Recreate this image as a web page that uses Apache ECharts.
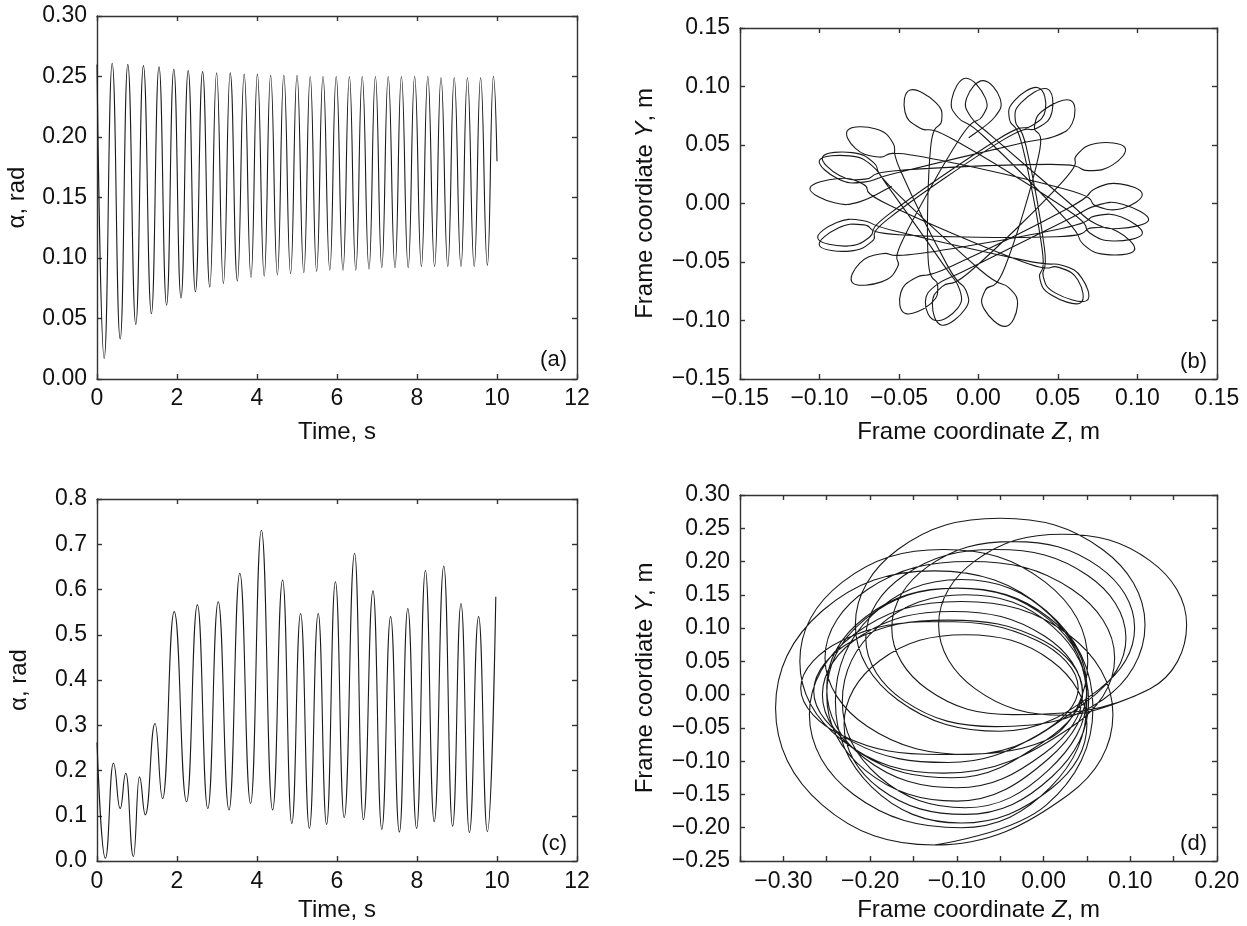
<!DOCTYPE html>
<html>
<head>
<meta charset="utf-8">
<script src="https://cdn.jsdelivr.net/npm/echarts@6/dist/echarts.min.js"></script>
<style>
  html, body { margin: 0; padding: 0; background: #ffffff; }
  #chart { width: 1247px; height: 926px; }
</style>
</head>
<body>
<div id="chart"></div>
<script>
// ---------- (a) swing angle, small excitation: peak / trough of every swing ----------
const swingPeakTimeA = [0.00, 0.38, 0.77, 1.16, 1.55, 1.92, 2.28, 2.64, 2.99, 3.33, 3.68, 4.01, 4.34, 4.67, 5.00,
  5.33, 5.65, 5.98, 6.31, 6.63, 6.96, 7.28, 7.61, 7.94, 8.27, 8.60, 8.93, 9.26, 9.59, 9.91];
const swingPeakA = [0.260, 0.261, 0.260, 0.259, 0.258, 0.256, 0.255, 0.254, 0.253, 0.253, 0.252, 0.252, 0.251, 0.251, 0.251,
  0.250, 0.250, 0.250, 0.250, 0.250, 0.250, 0.250, 0.250, 0.250, 0.250, 0.249, 0.249, 0.249, 0.249, 0.250];
const swingTroughTimeA = [0.18, 0.58, 0.97, 1.36, 1.74, 2.10, 2.46, 2.82, 3.16, 3.51, 3.85, 4.18, 4.51, 4.84, 5.17,
  5.49, 5.82, 6.15, 6.47, 6.80, 7.12, 7.45, 7.78, 8.11, 8.44, 8.77, 9.10, 9.43, 9.76];
const swingTroughA = [0.017, 0.033, 0.045, 0.054, 0.061, 0.067, 0.072, 0.076, 0.079, 0.081, 0.084, 0.085, 0.086, 0.087, 0.088,
  0.089, 0.090, 0.090, 0.090, 0.091, 0.092, 0.092, 0.092, 0.093, 0.093, 0.093, 0.093, 0.093, 0.094];
const lastSampleA = [10.0, 0.180];

// ---------- (c) swing angle, large excitation: successive extrema ----------
const extremaTimeC = [0.00, 0.21, 0.41, 0.58, 0.72, 0.91, 1.06, 1.21, 1.45, 1.64, 1.93, 2.24, 2.51, 2.77, 3.03,
  3.30, 3.57, 3.84, 4.11, 4.39, 4.64, 4.87, 5.09, 5.31, 5.53, 5.74, 5.96, 6.18, 6.44, 6.66,
  6.90, 7.12, 7.34, 7.56, 7.77, 7.99, 8.21, 8.43, 8.67, 8.89, 9.10, 9.31, 9.54, 9.76, 9.97];
const extremaC = [0.262, 0.006, 0.216, 0.116, 0.194, 0.010, 0.186, 0.102, 0.304, 0.138, 0.551, 0.131, 0.566, 0.116, 0.573,
  0.113, 0.636, 0.127, 0.731, 0.113, 0.621, 0.083, 0.547, 0.072, 0.547, 0.081, 0.617, 0.096, 0.680, 0.091,
  0.597, 0.070, 0.540, 0.064, 0.558, 0.072, 0.642, 0.087, 0.652, 0.077, 0.569, 0.063, 0.540, 0.065, 0.584];

// ---------- (b) frame trajectory [Z, Y] in m, small excitation; one row per outer loop ----------
const orbitB = [
  [-0.0546, 0.0148], [-0.0744, 0.0016], [-0.0906, 0.0006], [-0.106, 0.013], [-0.0881, 0.0214], [-0.0725, 0.0165], [-0.0566, -0.0011],
  [0.0273, -0.0495], [0.0505, -0.0546], [0.0626, -0.0656], [0.064, -0.085], [0.0458, -0.0782], [0.0385, -0.0636], [0.0401, -0.0399],
  [0.0275, 0.0494], [0.0195, 0.0718], [0.0225, 0.0878], [0.0375, 0.099], [0.0421, 0.0803], [0.0335, 0.0664], [0.0126, 0.0552],
  [-0.0559, -0.0087], [-0.0686, -0.0288], [-0.0830, -0.0364], [-0.101, -0.030], [-0.0891, -0.0163], [-0.0730, -0.0145], [-0.0512, -0.0240],
  [0.0290, -0.0486], [0.0524, -0.0528], [0.0648, -0.0633], [0.068, -0.083], [0.0485, -0.0766], [0.0407, -0.0622], [0.0415, -0.0385],
  [0.0301, 0.0479], [0.0232, 0.0706], [0.0270, 0.0865], [0.043, 0.098], [0.0462, 0.0780], [0.0369, 0.0645], [0.0155, 0.0544],
  [-0.0554, -0.0116], [-0.0670, -0.0324], [-0.0810, -0.0407], [-0.100, -0.036], [-0.0882, -0.0209], [-0.0721, -0.0183], [-0.0499, -0.0267],
  [0.0489, -0.0284], [0.0714, -0.0208], [0.0874, -0.0240], [0.098, -0.040], [0.0795, -0.0435], [0.0658, -0.0347], [0.0549, -0.0136],
  [0.0041, 0.0564], [-0.0127, 0.0733], [-0.0168, 0.0891], [-0.008, 0.107], [0.0042, 0.0905], [0.0023, 0.0743], [-0.0119, 0.0553],
  [-0.0475, -0.0307], [-0.0509, -0.0542], [-0.0610, -0.0670], [-0.079, -0.068], [-0.0748, -0.0511], [-0.0608, -0.0429], [-0.0370, -0.0428],
  [0.0524, -0.0213], [0.0736, -0.0106], [0.0899, -0.0116], [0.103, -0.026], [0.0848, -0.0320], [0.0700, -0.0252], [0.0563, -0.0058],
  [-0.0155, 0.0544], [-0.0369, 0.0645], [-0.0462, 0.0780], [-0.043, 0.097], [-0.0270, 0.0865], [-0.0232, 0.0706], [-0.0301, 0.0479],
  [-0.0317, -0.0468], [-0.0257, -0.0698], [-0.0300, -0.0855], [-0.046, -0.094], [-0.0489, -0.0763], [-0.0392, -0.0632], [-0.0174, -0.0538],
  [0.0564, -0.0041], [0.0733, 0.0127], [0.0891, 0.0168], [0.103, 0.008], [0.0905, -0.0042], [0.0743, -0.0023], [0.0553, 0.0119],
  [-0.0392, 0.0408], [-0.0629, 0.0397], [-0.0774, 0.0471], [-0.082, 0.063], [-0.0645, 0.0637], [-0.0537, 0.0515], [-0.0491, 0.0282],
  [-0.0195, -0.0531], [-0.0080, -0.0739], [-0.0084, -0.0902], [-0.023, -0.104], [-0.0290, -0.0859], [-0.0227, -0.0708], [-0.0038, -0.0564],
  [0.0532, 0.0192], [0.0618, 0.0414], [0.0745, 0.0515], [0.092, 0.048], [0.0844, 0.0330], [0.0689, 0.0281], [0.0457, 0.0334],
  [-0.0489, 0.0284], [-0.0714, 0.0208], [-0.0874, 0.0240], [-0.098, 0.040], [-0.0795, 0.0435], [-0.0658, 0.0347], [-0.0549, 0.0136],
  [0.0009, -0.0566], [0.0190, -0.0719], [0.0245, -0.0873], [0.017, -0.105], [0.0037, -0.0905], [0.0042, -0.0743], [0.0167, -0.0541],
  [0.0380, 0.0420], [0.0352, 0.0655], [0.0416, 0.0805], [0.058, 0.088], [0.0590, 0.0687], [0.0476, 0.0572], [0.0247, 0.0509],
  [-0.0499, 0.0267], [-0.0721, 0.0183], [-0.0882, 0.0209], [-0.100, 0.037], [-0.0810, 0.0407], [-0.0670, 0.0324], [-0.0554, 0.0116],
  [-0.0222, -0.0520], [-0.0119, -0.0734], [-0.0132, -0.0897], [-0.027, -0.100], [-0.0334, -0.0842], [-0.0264, -0.0695], [-0.0068, -0.0562],
  [0.0546, -0.0148], [0.0744, -0.0016], [0.0906, -0.0006], [0.107, -0.014], [0.0881, -0.0214], [0.0725, -0.0165], [0.0566, 0.0011],
  [0.0100, 0.0557], [-0.0049, 0.0742], [-0.0074, 0.0903], [0.003, 0.105], [0.0136, 0.0896], [0.0101, 0.0737], [-0.0061, 0.0562]
];

// ---------- (d) frame trajectory [Z, Y] in m, large excitation; one row per revolution ----------
const orbitD = [
  [-0.126, -0.226],
  [0.003, -0.166], [0.057, -0.020], [0.003, 0.126], [-0.126, 0.186], [-0.255, 0.126], [-0.309, -0.020], [-0.255, -0.166], [-0.126, -0.226],
  [0.029, -0.150], [0.080, -0.030], [0.029, 0.090], [-0.095, 0.140], [-0.219, 0.090], [-0.270, -0.030], [-0.219, -0.150], [-0.095, -0.200],
  [0.008, -0.139], [0.050, -0.010], [0.008, 0.119], [-0.095, 0.173], [-0.198, 0.119], [-0.240, -0.010], [-0.198, -0.139], [-0.095, -0.193],
  [0.009, -0.141], [0.050, -0.045], [0.009, 0.051], [-0.090, 0.090], [-0.189, 0.051], [-0.230, -0.045], [-0.189, -0.141], [-0.090, -0.180],
  [0.010, -0.123], [0.052, -0.010], [0.010, 0.103], [-0.090, 0.150], [-0.190, 0.103], [-0.232, -0.010], [-0.190, -0.123], [-0.090, -0.170],
  [0.006, -0.113], [0.050, 0.000], [0.006, 0.113], [-0.100, 0.160], [-0.206, 0.113], [-0.250, 0.000], [-0.206, -0.113], [-0.100, -0.160],
  [0.006, -0.096], [0.050, 0.010], [0.006, 0.116], [-0.100, 0.160], [-0.206, 0.116], [-0.250, 0.010], [-0.206, -0.096], [-0.100, -0.140],
  [0.001, -0.088], [0.045, 0.000], [0.001, 0.088], [-0.105, 0.125], [-0.211, 0.088], [-0.255, 0.000], [-0.211, -0.088], [-0.105, -0.125],
  [0.000, -0.071], [0.045, 0.005], [0.000, 0.081], [-0.110, 0.112], [-0.220, 0.081], [-0.265, 0.005], [-0.220, -0.071], [-0.110, -0.102],
  [-0.007, -0.061], [0.040, 0.010], [-0.007, 0.081], [-0.120, 0.110], [-0.233, 0.081], [-0.280, 0.010], [-0.233, -0.061], [-0.120, -0.090],
  [0.002, -0.069], [0.051, 0.050], [0.002, 0.169], [-0.115, 0.218], [-0.232, 0.169], [-0.281, 0.050], [-0.232, -0.069], [-0.115, -0.118],
  [0.033, -0.048], [0.082, 0.055], [0.033, 0.158], [-0.085, 0.200], [-0.203, 0.158], [-0.252, 0.055], [-0.203, -0.048], [-0.085, -0.090],
  [0.051, -0.009], [0.095, 0.085], [0.051, 0.179], [-0.055, 0.218], [-0.161, 0.179], [-0.205, 0.085], [-0.161, -0.009], [-0.055, -0.048],
  [0.068, -0.008], [0.117, 0.105], [0.068, 0.218], [-0.050, 0.265], [-0.168, 0.218], [-0.217, 0.105], [-0.168, -0.008], [-0.050, -0.055],
  [0.064, 0.008], [0.105, 0.100], [0.064, 0.192], [-0.035, 0.230], [-0.134, 0.192], [-0.175, 0.100], [-0.134, 0.008], [-0.035, -0.030],
  [0.123, 0.009], [0.165, 0.105], [0.123, 0.201], [0.022, 0.241], [-0.079, 0.201], [-0.121, 0.105], [-0.079, 0.009], [0.022, -0.031],
  [0.123, 0.009]
];

// ---------- axis ranges: [min, max, tick step] ----------
const timeAxis = [0, 12, 2];
const angleAxisA = [0, 0.30, 0.05];
const angleAxisC = [0, 0.8, 0.1];
const frameAxisB = [-0.15, 0.15, 0.05];
const frameZAxisD = [-0.35, 0.20, 0.05];
const frameYAxisD = [-0.25, 0.30, 0.05];
const panelTags = ['(a)', '(b)', '(c)', '(d)'];

// ---------- build series data ----------
const dataA = [];
for (let i = 0; i < swingPeakTimeA.length; i++) {
  dataA.push([swingPeakTimeA[i], swingPeakA[i]]);
  if (i < swingTroughTimeA.length) dataA.push([swingTroughTimeA[i], swingTroughA[i]]);
}
dataA.push(lastSampleA);
const dataC = extremaTimeC.map((t, i) => [t, extremaC[i]]);

// ---------- styling helpers ----------
const FONT = '"Liberation Sans", Arial, Helvetica, sans-serif';
const INK = '#111111';
const FRAME = { color: '#333333', width: 1.4 };
const TRACE = '#1a1a1a';

function signed(v, digits) {
  if (Math.abs(v) < 1e-9) return (0).toFixed(digits);
  return (v < 0 ? '\u2212' : '') + Math.abs(v).toFixed(digits);
}
const fmtInt = v => String(Math.round(v));
const fmt1 = v => signed(v, 1);
const fmt2 = v => signed(v, 2);
const fmtTenth = v => (Math.round(v * 100) % 10 === 0 ? signed(v, 2) : '');

const nameStyle = {
  fontFamily: FONT, fontSize: 24, color: INK,
  rich: {
    t: { fontFamily: FONT, fontSize: 24, color: INK },
    i: { fontFamily: FONT, fontSize: 24, color: INK, fontStyle: 'italic' }
  }
};

function xPair(grid, range, fmt, name, gap, margin) {
  const base = {
    gridIndex: grid, type: 'value', min: range[0], max: range[1], interval: range[2],
    axisLine: { show: true, onZero: false, lineStyle: FRAME },
    axisTick: { show: true, inside: true, length: 5, lineStyle: FRAME },
    splitLine: { show: false }
  };
  return [
    Object.assign({}, base, {
      position: 'bottom',
      axisLabel: { formatter: fmt, margin: margin, fontFamily: FONT, fontSize: 23, color: INK },
      name: name, nameLocation: 'middle', nameGap: gap, nameTextStyle: nameStyle
    }),
    Object.assign({}, base, { position: 'top', axisLabel: { show: false } })
  ];
}

function yPair(grid, range, fmt, name, gap) {
  const base = {
    gridIndex: grid, type: 'value', min: range[0], max: range[1], interval: range[2],
    axisLine: { show: true, onZero: false, lineStyle: FRAME },
    axisTick: { show: true, inside: true, length: 5, lineStyle: FRAME },
    splitLine: { show: false }
  };
  return [
    Object.assign({}, base, {
      position: 'left',
      axisLabel: { formatter: fmt, margin: 10, fontFamily: FONT, fontSize: 23, color: INK },
      name: name, nameLocation: 'middle', nameGap: gap, nameTextStyle: nameStyle
    }),
    Object.assign({}, base, { position: 'right', axisLabel: { show: false } })
  ];
}

// Smooth curve (Catmull-Rom style cubic Beziers) through the projected orbit points.
function orbitPath(points, api, k) {
  const px = points.map(p => api.coord(p));
  let d = 'M' + px[0][0].toFixed(2) + ' ' + px[0][1].toFixed(2);
  for (let i = 0; i < px.length - 1; i++) {
    const p0 = px[i - 1] || px[i];
    const p1 = px[i];
    const p2 = px[i + 1];
    const p3 = px[i + 2] || px[i + 1];
    const c1x = p1[0] + (p2[0] - p0[0]) * k, c1y = p1[1] + (p2[1] - p0[1]) * k;
    const c2x = p2[0] - (p3[0] - p1[0]) * k, c2y = p2[1] - (p3[1] - p1[1]) * k;
    d += ' C' + c1x.toFixed(2) + ' ' + c1y.toFixed(2) + ' ' + c2x.toFixed(2) + ' ' + c2y.toFixed(2) +
         ' ' + p2[0].toFixed(2) + ' ' + p2[1].toFixed(2);
  }
  return d;
}

function orbitSeries(axisIndex, points, k) {
  return {
    type: 'custom', coordinateSystem: 'cartesian2d',
    xAxisIndex: axisIndex, yAxisIndex: axisIndex,
    data: points, silent: true, clip: true,
    renderItem: (params, api) => params.dataIndex === 0 ? {
      type: 'path',
      shape: { pathData: orbitPath(points, api, k) },
      style: { fill: 'none', stroke: TRACE, lineWidth: 1.1 }
    } : null
  };
}

const zName = '{t|Frame coordinate }{i|Z}{t|, m}';
const yName = '{t|Frame coordiate }{i|Y}{t|, m}';

const traceStyle = { color: TRACE, width: 1.1 };

const option = {
  animation: false,
  backgroundColor: '#ffffff',
  grid: [
    { left: 97, top: 16, width: 480, height: 363 },
    { left: 740, top: 28, width: 477, height: 351 },
    { left: 97, top: 499, width: 480, height: 362 },
    { left: 740, top: 495, width: 477, height: 366 }
  ],
  xAxis: [].concat(
    xPair(0, timeAxis, fmtInt, 'Time, s', 41, 8),
    xPair(1, frameAxisB, fmt2, zName, 41, 8),
    xPair(2, timeAxis, fmtInt, 'Time, s', 37, 9),
    xPair(3, frameZAxisD, fmtTenth, zName, 37, 9)
  ),
  yAxis: [].concat(
    yPair(0, angleAxisA, fmt2, '\u03b1, rad', 68),
    yPair(1, frameAxisB, fmt2, yName, 83),
    yPair(2, angleAxisC, fmt1, '\u03b1, rad', 66),
    yPair(3, frameYAxisD, fmt2, yName, 83)
  ),
  series: [
    { type: 'line', xAxisIndex: 0, yAxisIndex: 0, data: dataA, showSymbol: false,
      smooth: 0.5, smoothMonotone: 'x', lineStyle: traceStyle, silent: true },
    orbitSeries(2, orbitB, 0.21),
    { type: 'line', xAxisIndex: 4, yAxisIndex: 4, data: dataC, showSymbol: false,
      smooth: 0.5, smoothMonotone: 'x', lineStyle: traceStyle, silent: true },
    { type: 'line', xAxisIndex: 6, yAxisIndex: 6, data: orbitD, showSymbol: false,
      smooth: 0.4, lineStyle: traceStyle, silent: true }
  ],
  graphic: [
    { type: 'text', x: 567, y: 360, style: { text: panelTags[0], align: 'right', verticalAlign: 'middle', fontFamily: FONT, fontSize: 22, fill: INK } },
    { type: 'text', x: 1207, y: 362, style: { text: panelTags[1], align: 'right', verticalAlign: 'middle', fontFamily: FONT, fontSize: 22, fill: INK } },
    { type: 'text', x: 567, y: 844, style: { text: panelTags[2], align: 'right', verticalAlign: 'middle', fontFamily: FONT, fontSize: 22, fill: INK } },
    { type: 'text', x: 1207, y: 844, style: { text: panelTags[3], align: 'right', verticalAlign: 'middle', fontFamily: FONT, fontSize: 22, fill: INK } }
  ]
};

const chart = echarts.init(document.getElementById('chart'), null, { renderer: 'canvas' });
chart.setOption(option);
</script>
</body>
</html>
